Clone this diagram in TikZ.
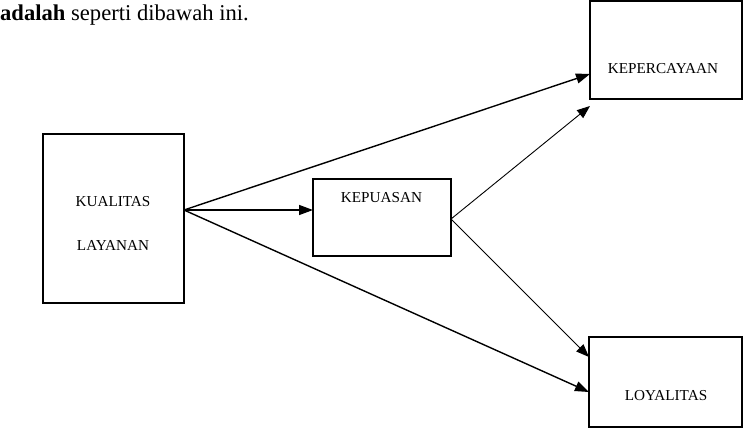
\documentclass[tikz,border=0pt]{standalone}
\usepackage{fontspec}
\setmainfont{Liberation Serif}
\usetikzlibrary{arrows.meta}
\tikzset{
  box/.style={draw, line width=2pt, rectangle, inner sep=0pt},
  lbl/.style={anchor=base, inner sep=0pt, font=\fontsize{15.2}{18}\selectfont},
  arr/.style={-{Triangle[length=14pt,width=10pt]}, line width=1.4pt},
  arrthin/.style={-{Triangle[length=13pt,width=10pt]}, line width=0.9pt},
}
\begin{document}
\begin{tikzpicture}[x=1pt,y=-1pt]
\useasboundingbox (0,0) rectangle (743,437);
\node[anchor=base west, inner sep=0pt, font=\fontsize{22.6}{26}\selectfont] (head) at (0,20) {\textbf{adalah} seperti dibawah ini.};
% boxes
\node[box, minimum width=141pt, minimum height=169pt] (kual) at (113.5,218.5) {};
\node[box, minimum width=138pt, minimum height=77pt] (kepu) at (382,217.5) {};
\node[box, minimum width=152pt, minimum height=98pt] (kepc) at (666,50) {};
\node[box, minimum width=153pt, minimum height=90pt] (loy) at (665.5,382) {};
% labels
\node[lbl] (t1) at (113,206) {KUALITAS};
\node[lbl] (t2) at (113,250) {LAYANAN};
\node[lbl] (t3) at (381.5,202) {KEPUASAN};
\node[lbl] (t4) at (663,73) {KEPERCAYAAN};
\node[lbl] (t5) at (666,400) {LOYALITAS};
% connector points
\coordinate (ks) at (184,210);
\coordinate (kps) at (451,219);
\coordinate (e1) at (590,74);
\coordinate (e2) at (313,210);
\coordinate (e3) at (589,392);
\coordinate (e4) at (590,106);
\coordinate (e5) at (589,357);
\draw[arr] (ks) -- (e1);
\draw[arr] (ks) -- (e2);
\draw[arr] (ks) -- (e3);
\draw[arrthin] (kps) -- (e4);
\draw[arrthin] (kps) -- (e5);
\end{tikzpicture}
\end{document}
